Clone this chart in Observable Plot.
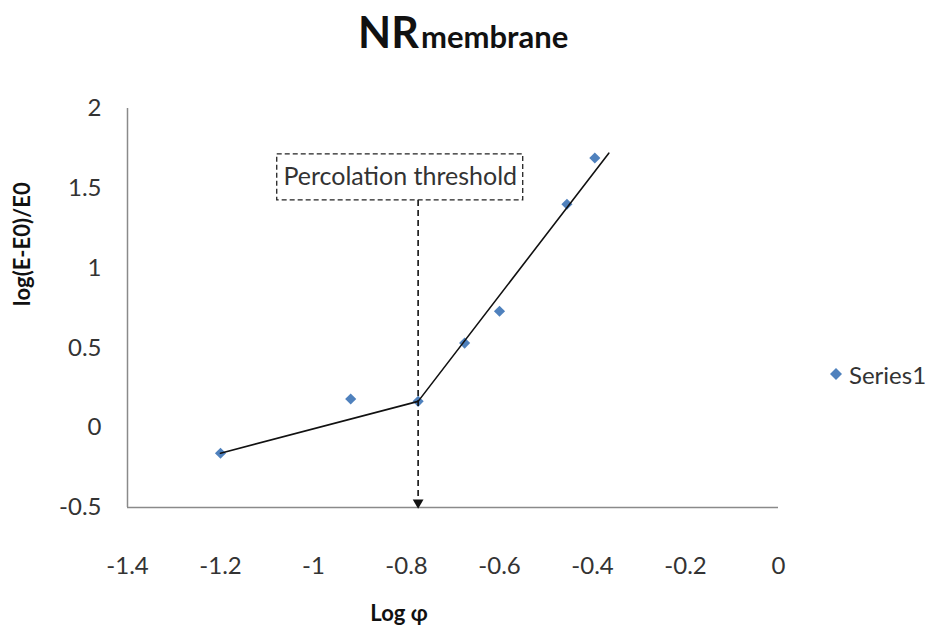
<!DOCTYPE html>
<html>
<head>
<meta charset="utf-8">
<script src="https://cdn.jsdelivr.net/npm/d3@7"></script>
<script src="https://cdn.jsdelivr.net/npm/@observablehq/plot@0.6"></script>
<style>
  body { margin: 0; background: #fff; font-family: Lato, "Open Sans", sans-serif; }
  #wrap { position: relative; width: 936px; height: 639px; overflow: hidden; }
  #title { position: relative; height: 75px; }
  #title span { position: absolute; font-weight: bold; color: #111; line-height: 1; white-space: nowrap; }
  #t1 { left: 358px; top: 10px; font-size: 43px; }
  #t2 { left: 421px; top: 21px; font-size: 31px; }
  #legend { position: absolute; left: 830px; top: 361px; height: 26px; display: flex; align-items: center; font-size: 24px; color: #333; }
  #legend svg { margin-right: 7px; }
</style>
</head>
<body>
<div id="wrap">
  <div id="title"><span id="t1">NR</span><span id="t2">membrane</span></div>
  <div id="chart"></div>
  <div id="legend"></div>
</div>
<script>
// Data
const xVals = [-1.2, -0.92, -0.775, -0.675, -0.6, -0.455, -0.395];
const yVals = [-0.16, 0.18, 0.165, 0.53, 0.73, 1.4, 1.69];
// Fitted two-segment trend line
const fitX = [-1.2, -0.775, -0.365];
const fitY = [-0.16, 0.165, 1.72];
// Ticks
const xTicks = [-1.4, -1.2, -1, -0.8, -0.6, -0.4, -0.2, 0];
const yTicks = [-0.5, 0, 0.5, 1, 1.5, 2];
// Texts
const seriesName = "Series1";
const annotation = "Percolation threshold";
const xLabel = "Log φ";
const yLabel = "log(E-E0)/E0";
// Annotation geometry (data units)
const thresholdX = -0.775;
const boxX = [-1.078, -0.549];
const boxY = [1.424, 1.712];

const data = xVals.map((x, i) => ({x, y: yVals[i]}));
const fit = fitX.map((x, i) => ({x, y: fitY[i]}));
const blue = "#4F81BD";

const chart = Plot.plot({
  width: 936,
  height: 564,
  marginLeft: 127,
  marginRight: 158,
  marginTop: 33,
  marginBottom: 132,
  x: {domain: [-1.4, 0]},
  y: {domain: [-0.5, 2]},
  style: {fontFamily: "Lato, 'Open Sans', sans-serif", fontSize: "24px", color: "#333", background: "white", overflow: "visible"},
  marks: [
    Plot.ruleY([-0.5], {stroke: "#8a8a8a", strokeWidth: 1.5}),
    Plot.ruleX([-1.4], {stroke: "#8a8a8a", strokeWidth: 1.5}),
    Plot.axisX({ticks: xTicks, tickSize: 0, tickPadding: 49, tickFormat: d => String(d), label: null, fontSize: 24}),
    Plot.axisY({ticks: yTicks, tickSize: 0, tickPadding: 26, tickFormat: d => String(d), label: null, fontSize: 24}),
    Plot.dot(data, {x: "x", y: "y", symbol: "diamond2", r: 5, fill: blue, stroke: "none"}),
    Plot.line(fit, {x: "x", y: "y", stroke: "#111", strokeWidth: 1.6}),
    Plot.ruleX([thresholdX], {y1: () => boxY[0], y2: () => -0.5, stroke: "#111", strokeWidth: 1.6, strokeDasharray: "6,4", insetBottom: 6}),
    Plot.dot([thresholdX], {x: d => d, y: () => -0.5, symbol: "triangle", rotate: 180, r: 4, fill: "#111", dy: -5}),
    Plot.rect([0], {x1: () => boxX[0], x2: () => boxX[1], y1: () => boxY[0], y2: () => boxY[1], fill: "white", stroke: "#222", strokeWidth: 1.3, strokeDasharray: "5,3"}),
    Plot.text([annotation], {x: () => (boxX[0] + boxX[1]) / 2, y: () => (boxY[0] + boxY[1]) / 2, text: d => d, fontSize: 25, fill: "#333"}),
    Plot.text([yLabel], {frameAnchor: "left", dx: -105, dy: -2, rotate: -90, text: d => d, fontWeight: "bold", fontSize: 22, fill: "#111"}),
    Plot.text([xLabel], {frameAnchor: "bottom", dx: -54, dy: 113, text: d => d, fontWeight: "bold", fontSize: 22, fill: "#111"})
  ]
});
document.getElementById("chart").appendChild(chart);

// Legend
const leg = document.getElementById("legend");
leg.innerHTML = `<svg width="12" height="12"><path d="M6,0L12,6L6,12L0,6Z" fill="${blue}"/></svg><span>${seriesName}</span>`;
</script>
</body>
</html>
